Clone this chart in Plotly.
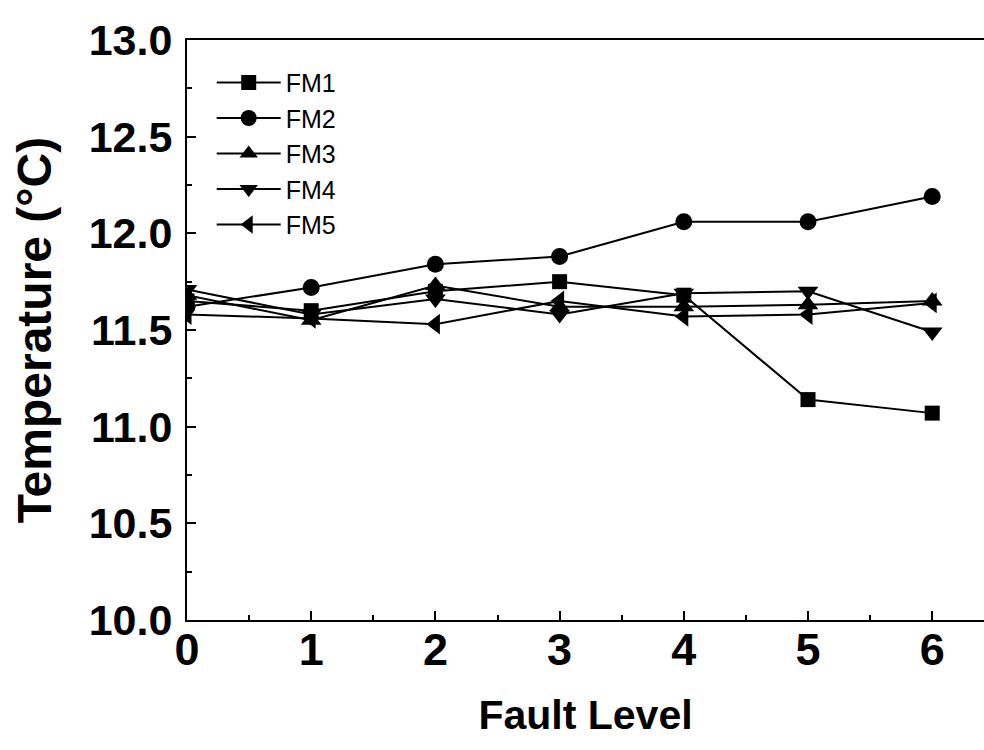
import plotly.graph_objects as go

fault_level = [0, 1, 2, 3, 4, 5, 6]
fm1 = [11.65, 11.60, 11.70, 11.75, 11.68, 11.14, 11.07]
fm2 = [11.62, 11.72, 11.84, 11.88, 12.06, 12.06, 12.19]
fm3 = [11.68, 11.55, 11.73, 11.62, 11.62, 11.63, 11.65]
fm4 = [11.71, 11.58, 11.66, 11.58, 11.69, 11.70, 11.49]
fm5 = [11.58, 11.56, 11.53, 11.65, 11.57, 11.58, 11.64]

series = [
    ("FM1", fm1, "square", 15),
    ("FM2", fm2, "circle", 17),
    ("FM3", fm3, "triangle-up", 18),
    ("FM4", fm4, "triangle-down", 18),
    ("FM5", fm5, "triangle-left", 18),
]

y_ticks = [10.0, 10.5, 11.0, 11.5, 12.0, 12.5, 13.0]
x_ticks = [0, 1, 2, 3, 4, 5, 6]

fig = go.Figure()
for name, vals, sym, sz in series:
    fig.add_trace(go.Scatter(
        x=fault_level, y=vals, name=name, mode="lines+markers",
        line=dict(color="black", width=2),
        marker=dict(symbol=sym, size=sz, color="black"),
    ))

font_family = "Liberation Sans, Arial, sans-serif"
fig.update_layout(
    width=984, height=750,
    margin=dict(l=187, r=0, t=40, b=130),
    paper_bgcolor="white", plot_bgcolor="white",
    font=dict(family=font_family, color="black"),
    showlegend=True,
    legend=dict(x=0.031, y=0.966, xanchor="left", yanchor="top",
                font=dict(size=25, family=font_family, color="black"),
                bgcolor="rgba(0,0,0,0)", tracegroupgap=0, itemwidth=64),
    xaxis=dict(
        range=[0, 6.417], tickvals=x_ticks, ticktext=[str(v) for v in x_ticks],
        showline=True, linecolor="black", linewidth=2, mirror=True,
        ticks="inside", ticklen=9, tickwidth=2, tickcolor="black",
        minor=dict(dtick=0.5, tick0=0, ticks="inside", ticklen=5, tickwidth=1.5, tickcolor="black"),
        showgrid=False, zeroline=False, automargin=False,
        ticklabelstandoff=-11,
        tickfont=dict(size=45, family=font_family, color="black", weight="bold"),
        title=dict(text="<b>Fault Level</b>", font=dict(size=41, family=font_family, color="black"), standoff=26),
    ),
    yaxis=dict(
        range=[10.0, 13.0], tickvals=y_ticks, ticktext=[f"{v:.1f}" for v in y_ticks],
        showline=True, linecolor="black", linewidth=2, mirror=False,
        ticks="inside", ticklen=9, tickwidth=2, tickcolor="black",
        minor=dict(dtick=0.25, tick0=10.0, ticks="inside", ticklen=5, tickwidth=1.5, tickcolor="black"),
        showgrid=False, zeroline=False, automargin=False,
        ticklabelstandoff=4,
        tickfont=dict(size=43, family=font_family, color="black", weight="bold"),
        title=dict(text="<b>Temperature (°C)</b>", font=dict(size=48, family=font_family, color="black"), standoff=22),
    ),
)

fig.write_html(
    "out.html",
    config={"displayModeBar": False},
    post_script="document.body.style.margin='0';document.body.style.overflow='hidden';",
)
